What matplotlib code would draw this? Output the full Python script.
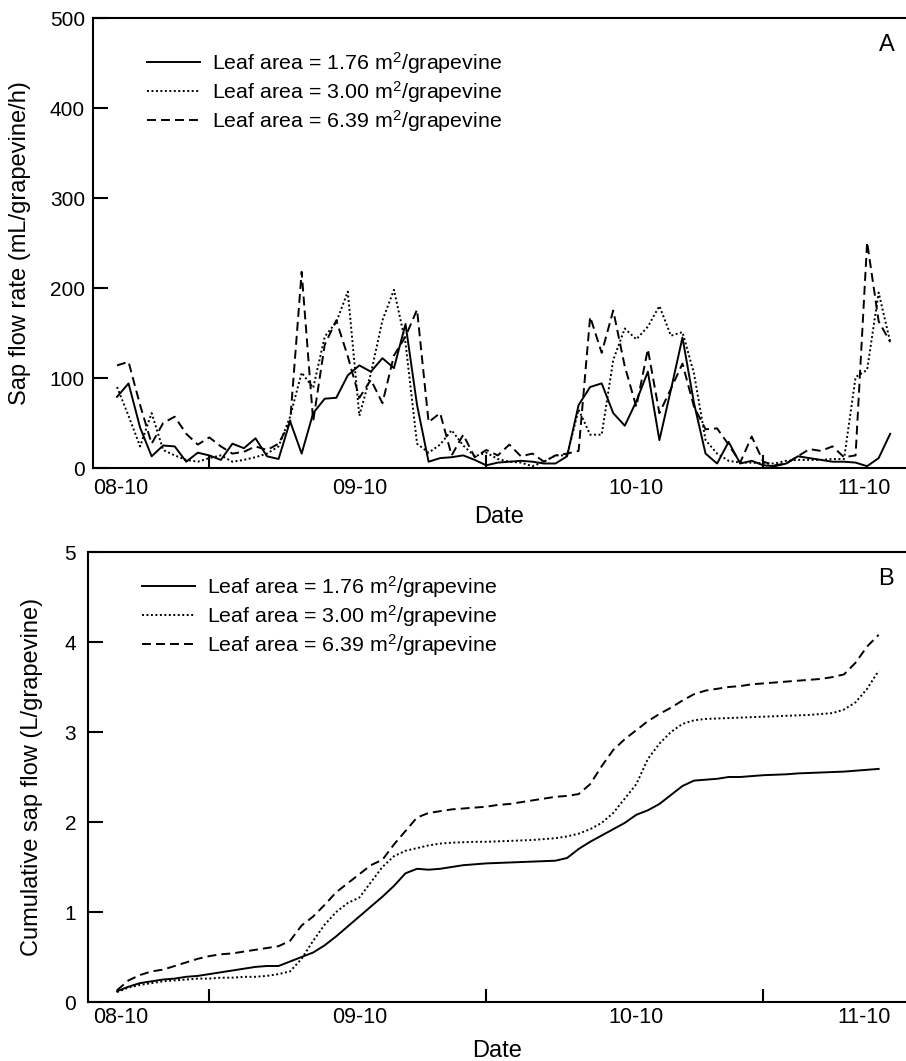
import matplotlib.pyplot as plt
import numpy as np
from matplotlib import font_manager

plt.rcParams['font.family'] = ['Liberation Sans', 'DejaVu Sans']
plt.rcParams['mathtext.fontset'] = 'custom'
plt.rcParams['mathtext.rm'] = 'Liberation Sans'
plt.rcParams['mathtext.it'] = 'Liberation Sans:italic'

# hourly sap flow rate (mL/grapevine/h), hour 0 = 16:00 on 08-10
hours = np.arange(68)
rate_176 = [79, 94, 45, 13, 25, 24, 7, 17, 14, 9,
            27, 22, 33, 13, 10, 52, 16, 61, 77, 78,
            103, 114, 107, 122, 111, 160, 70, 7, 11, 12,
            14, 9, 3, 6, 7, 8, 7, 5, 5, 13,
            70, 90, 94, 61, 47, 74, 107, 31, 87, 145,
            72, 16, 5, 29, 5, 8, 3, 2, 5, 13,
            11, 9, 7, 7, 6, 2, 11, 38]
rate_300 = [90, 58, 24, 61, 20, 14, 9, 7, 11, 14,
            7, 9, 12, 16, 24, 57, 106, 89, 146, 162,
            196, 58, 105, 164, 198, 139, 27, 17, 26, 42,
            25, 13, 17, 10, 7, 6, 2, 7, 14, 14,
            65, 37, 37, 120, 155, 143, 157, 180, 147, 151,
            105, 31, 16, 8, 6, 6, 5, 5, 8, 9,
            9, 9, 10, 10, 101, 109, 195, 140]
rate_639 = [114, 118, 70, 27, 50, 57, 38, 26, 34, 24,
            16, 18, 24, 20, 27, 51, 218, 52, 137, 164,
            124, 78, 98, 72, 125, 146, 176, 51, 61, 14,
            37, 12, 20, 14, 26, 13, 16, 7, 14, 16,
            19, 168, 128, 175, 113, 68, 132, 61, 88, 116,
            68, 43, 44, 26, 6, 35, 7, 3, 5, 13,
            21, 19, 24, 12, 14, 251, 163, 140]

# cumulative sap flow (L/grapevine)
cum_hours = np.arange(67)
cum_176 = [0.12, 0.17, 0.21, 0.23, 0.25, 0.26, 0.28, 0.29, 0.31, 0.33,
           0.35, 0.37, 0.39, 0.40, 0.40, 0.45, 0.50, 0.55, 0.63, 0.73,
           0.84, 0.95, 1.06, 1.17, 1.29, 1.43, 1.48, 1.47, 1.48, 1.50,
           1.52, 1.53, 1.54, 1.545, 1.55, 1.555, 1.56, 1.565, 1.57, 1.60,
           1.70, 1.78, 1.85, 1.92, 1.99, 2.08, 2.13, 2.20, 2.30, 2.40,
           2.46, 2.47, 2.48, 2.50, 2.50, 2.51, 2.52, 2.525, 2.53, 2.54,
           2.545, 2.55, 2.555, 2.56, 2.57, 2.58, 2.59]
cum_300 = [0.11, 0.16, 0.19, 0.21, 0.23, 0.24, 0.25, 0.26, 0.26, 0.27,
           0.27, 0.28, 0.28, 0.29, 0.31, 0.34, 0.48, 0.68, 0.86, 1.00,
           1.10, 1.16, 1.33, 1.50, 1.62, 1.68, 1.71, 1.74, 1.76, 1.77,
           1.775, 1.78, 1.78, 1.785, 1.79, 1.795, 1.80, 1.81, 1.82, 1.84,
           1.87, 1.92, 1.99, 2.10, 2.26, 2.42, 2.70, 2.87, 3.00, 3.09,
           3.13, 3.145, 3.15, 3.155, 3.16, 3.165, 3.17, 3.175, 3.18, 3.185,
           3.19, 3.20, 3.21, 3.25, 3.33, 3.48, 3.68]
cum_639 = [0.13, 0.24, 0.30, 0.34, 0.36, 0.40, 0.44, 0.48, 0.51, 0.53,
           0.54, 0.56, 0.58, 0.60, 0.62, 0.68, 0.85, 0.95, 1.08, 1.22,
           1.32, 1.42, 1.52, 1.58, 1.75, 1.90, 2.05, 2.10, 2.12, 2.14,
           2.15, 2.16, 2.17, 2.19, 2.20, 2.22, 2.24, 2.26, 2.28, 2.29,
           2.31, 2.42, 2.62, 2.80, 2.92, 3.02, 3.12, 3.20, 3.27, 3.35,
           3.42, 3.46, 3.48, 3.50, 3.51, 3.53, 3.54, 3.55, 3.56, 3.57,
           3.58, 3.59, 3.61, 3.64, 3.77, 3.95, 4.08]

labels = ['Leaf area = 1.76 m$^2$/grapevine',
          'Leaf area = 3.00 m$^2$/grapevine',
          'Leaf area = 6.39 m$^2$/grapevine']
day_ticks = [8, 32, 56]
date_pos = [0.3, 21, 45, 64.7]
date_labels = ['08-10', '09-10', '10-10', '11-10']

# condensed face for the dates if the system has it
try:
    font_manager.findfont('Liberation Sans Narrow', fallback_to_default=False)
    date_font, date_size = 'Liberation Sans Narrow', 18
except ValueError:
    date_font, date_size = 'Liberation Sans', 15.5

styles = [dict(ls='-'), dict(ls=(0, (1.0, 1.3))), dict(ls=(0, (4.6, 2.6)))]
lw = 1.4

fig = plt.figure(figsize=(9.06, 10.61), dpi=100)
ax1 = fig.add_axes([93/906, 1-468/1061, 813/906, 450/1061])
ax2 = fig.add_axes([88/906, 1-1002/1061, 818/906, 450/1061])

for ys, st, lab in zip([rate_176, rate_300, rate_639], styles, labels):
    ax1.plot(hours, ys, color='black', lw=lw, label=lab, **st)
for ys, st, lab in zip([cum_176, cum_300, cum_639], styles, labels):
    ax2.plot(cum_hours, ys, color='black', lw=lw, label=lab, **st)


def style_axes(ax, xleft, ylim, yticks, letter, label_pad, leg_anchor, ylab_x):
    ax.set_xlim(xleft, 68.37)
    ax.set_ylim(*ylim)
    ax.set_yticks(yticks)
    ax.spines['right'].set_visible(False)
    for s in ['left', 'top', 'bottom']:
        ax.spines[s].set_linewidth(1.5)
    ax.tick_params(axis='y', direction='in', length=10.8, width=1.5,
                   labelsize=15, pad=label_pad[0])
    ax.set_xticks(day_ticks, labels=['']*3)
    ax.tick_params(axis='x', which='major', direction='in', length=9.4, width=1.5)
    ax.set_xticks(date_pos, labels=date_labels, minor=True)
    ax.tick_params(axis='x', which='minor', length=0, pad=label_pad[1])
    for t in ax.get_xticklabels(minor=True):
        t.set_fontfamily(date_font)
        t.set_fontsize(date_size)
    ax.set_xlabel('Date', fontsize=17)
    ax.xaxis.set_label_coords(0.5, -0.084)
    ax.yaxis.set_label_coords(ylab_x, 0.5)
    ax.text(0.976, 0.94, letter, transform=ax.transAxes, fontsize=17,
            ha='center', va='center')
    ax.legend(loc='upper left', bbox_to_anchor=leg_anchor, frameon=False,
              borderaxespad=0, borderpad=0, fontsize=15.4, handlelength=2.5,
              handletextpad=0.55, labelspacing=0.15)


ax1.set_ylabel('Sap flow rate (mL/grapevine/h)', fontsize=17)
ax2.set_ylabel('Cumulative sap flow (L/grapevine)', fontsize=17)
style_axes(ax1, -2.08, (0, 500), range(0, 501, 100), 'A', (5.8, 7.2),
           (0.066, 0.929), -0.076)
style_axes(ax2, -2.51, (0, 5), range(0, 6), 'B', (8.6, 3.6),
           (0.066, 0.951), -0.055)

fig.savefig('out.png', dpi=100)
